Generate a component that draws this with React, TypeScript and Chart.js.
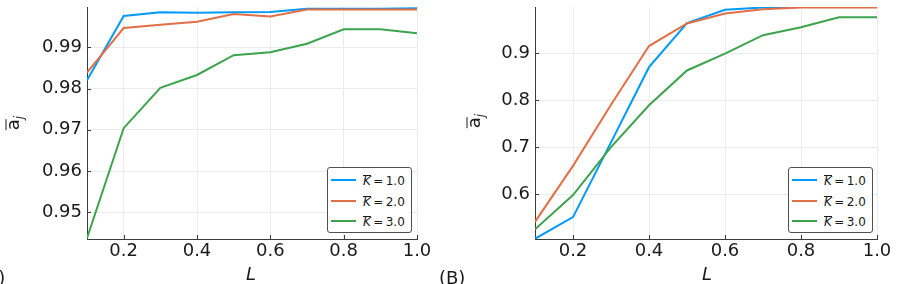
import { useEffect, useRef } from "react";
import { Chart, registerables } from "chart.js";

Chart.register(...registerables);

// Shared x grid: L from 0.1 to 1.0
const L_VALUES = [0.1, 0.2, 0.3, 0.4, 0.5, 0.6, 0.7, 0.8, 0.9, 1.0];
const X_TICKS = [0.2, 0.4, 0.6, 0.8, 1.0];

// Panel (A)
const A_K1 = [0.982, 0.9976, 0.9985, 0.9984, 0.9985, 0.9986, 0.9994, 0.9994, 0.9994, 0.9995];
const A_K2 = [0.9839, 0.9947, 0.9955, 0.9962, 0.9981, 0.9975, 0.9992, 0.9992, 0.9992, 0.9992];
const A_K3 = [0.9437, 0.9704, 0.9802, 0.9833, 0.9881, 0.9888, 0.9909, 0.9944, 0.9944, 0.9934];
const A_Y_TICKS = [0.95, 0.96, 0.97, 0.98, 0.99];
const A_Y_MIN = 0.9435;
const A_Y_MAX = 0.9998;

// Panel (B)
const B_K1 = [0.505, 0.551, 0.71, 0.87, 0.964, 0.992, 0.997, 0.998, 0.998, 0.998];
const B_K2 = [0.541, 0.66, 0.79, 0.915, 0.963, 0.984, 0.993, 0.997, 0.997, 0.997];
const B_K3 = [0.525, 0.598, 0.7, 0.789, 0.863, 0.899, 0.938, 0.955, 0.976, 0.976];
const B_Y_TICKS = [0.6, 0.7, 0.8, 0.9];
const B_Y_MIN = 0.5045;
const B_Y_MAX = 0.998;

const K_LABELS = ["1.0", "2.0", "3.0"];
const K_COLORS = ["#009af9", "#e26f46", "#3da44d"];

const FONT = '"DejaVu Sans", "Liberation Sans", sans-serif';
const TEXT_COLOR = "#1a1a1a";
const AXIS_COLOR = "#3c3c3c";
const GRID_COLOR = "#ebebeb";
const HEIGHT = 284;
const PANEL_WIDTH = 449;

// short tick marks pointing into the plot area
const innerTicks = {
  id: "innerTicks",
  afterDraw(chart: any) {
    const { ctx, chartArea, scales } = chart;
    ctx.save();
    ctx.strokeStyle = AXIS_COLOR;
    ctx.lineWidth = 1;
    ctx.beginPath();
    for (const t of scales.x.ticks) {
      const px = Math.round(scales.x.getPixelForValue(t.value)) + 0.5;
      ctx.moveTo(px, chartArea.bottom);
      ctx.lineTo(px, chartArea.bottom - 4);
    }
    for (const t of scales.y.ticks) {
      const py = Math.round(scales.y.getPixelForValue(t.value)) + 0.5;
      ctx.moveTo(chartArea.left, py);
      ctx.lineTo(chartArea.left + 4, py);
    }
    ctx.stroke();
    ctx.restore();
  },
};

type PanelProps = {
  series: number[][];
  yTicks: number[];
  yMin: number;
  yMax: number;
  yDecimals: number;
  offsetX: number;
  plotLeft: number;
  plotRight: number;
};

function Panel(p: PanelProps) {
  const ref = useRef<HTMLCanvasElement>(null);
  useEffect(() => {
    const chart = new Chart(ref.current as HTMLCanvasElement, {
      type: "line",
      data: {
        datasets: p.series.map((vals, i) => ({
          label: "K = " + K_LABELS[i],
          data: L_VALUES.map((x, j) => ({ x, y: vals[j] })),
          borderColor: K_COLORS[i],
          backgroundColor: K_COLORS[i],
          borderWidth: 2,
          pointRadius: 0,
          tension: 0,
          fill: false,
          order: p.series.length - i,
        })),
      },
      options: {
        responsive: false,
        animation: false,
        devicePixelRatio: 1,
        layout: { padding: { left: 0, right: PANEL_WIDTH - p.plotRight, top: 7, bottom: 0 } },
        plugins: { legend: { display: false }, tooltip: { enabled: false } },
        scales: {
          x: {
            type: "linear",
            min: 0.1,
            max: 1.0,
            afterBuildTicks: (s: any) => {
              s.ticks = X_TICKS.map((v) => ({ value: v }));
            },
            afterFit: (s: any) => {
              s.height = HEIGHT - 239;
              s.paddingLeft = 0;
              s.paddingRight = 0;
            },
            ticks: {
              autoSkip: false,
              maxRotation: 0,
              padding: 2,
              color: TEXT_COLOR,
              font: { family: FONT, size: 18 },
              callback: (v: any) => Number(v).toFixed(1),
            },
            grid: { color: GRID_COLOR, drawTicks: false, lineWidth: 1 },
            border: { color: AXIS_COLOR, width: 1 },
          },
          y: {
            type: "linear",
            min: p.yMin,
            max: p.yMax,
            afterBuildTicks: (s: any) => {
              s.ticks = p.yTicks.map((v) => ({ value: v }));
            },
            afterFit: (s: any) => {
              s.width = p.plotLeft;
              s.paddingTop = 0;
              s.paddingBottom = 0;
            },
            ticks: {
              autoSkip: false,
              padding: 5,
              color: TEXT_COLOR,
              font: { family: FONT, size: 18 },
              callback: (v: any) => Number(v).toFixed(p.yDecimals),
            },
            grid: { color: GRID_COLOR, drawTicks: false, lineWidth: 1 },
            border: { color: AXIS_COLOR, width: 1 },
          },
        },
      } as any,
      plugins: [innerTicks],
    });
    return () => chart.destroy();
  }, []);
  return (
    <canvas
      ref={ref}
      width={PANEL_WIDTH}
      height={HEIGHT}
      style={{ position: "absolute", left: p.offsetX, top: 0, width: PANEL_WIDTH, height: HEIGHT }}
    />
  );
}

function Bar({ children, lh }: { children: any; lh: string }) {
  return (
    <span style={{ display: "inline-block", borderTop: "1.3px solid currentColor", lineHeight: lh }}>
      {children}
    </span>
  );
}

function Legend({ left, top }: { left: number; top: number }) {
  const rows = [13, 33.5, 54];
  return (
    <div
      style={{
        position: "absolute",
        left,
        top,
        width: 85,
        height: 66,
        boxSizing: "border-box",
        border: "1px solid #505050",
        borderRadius: 3,
        background: "#ffffff",
      }}
    >
      {K_LABELS.map((lab, i) => (
        <div key={lab}>
          <div
            style={{
              position: "absolute",
              left: 3,
              top: rows[i] - 2,
              width: 25,
              height: 2,
              background: K_COLORS[i],
            }}
          />
          <div
            style={{
              position: "absolute",
              left: 35,
              top: rows[i] - 8,
              height: 16,
              font: `12px ${FONT}`,
              color: TEXT_COLOR,
              whiteSpace: "nowrap",
              lineHeight: "16px",
            }}
          >
            <span style={{ fontStyle: "italic" }}>
              <Bar lh="0.9em">K</Bar>
            </span>
            {"\u2009=\u2009" + lab}
          </div>
        </div>
      ))}
    </div>
  );
}

function YTitle({ cx, cy }: { cx: number; cy: number }) {
  return (
    <div
      style={{
        position: "absolute",
        left: cx,
        top: cy,
        transform: "translate(-50%, -50%) rotate(-90deg)",
        font: `18px ${FONT}`,
        color: TEXT_COLOR,
        whiteSpace: "nowrap",
        lineHeight: 1,
      }}
    >
      <Bar lh="0.66em">a</Bar>
      <span style={{ fontSize: 12, fontStyle: "italic", verticalAlign: "-4px" }}>j</span>
    </div>
  );
}

function XTitle({ cx }: { cx: number }) {
  return (
    <div
      style={{
        position: "absolute",
        left: cx,
        top: 265,
        transform: "translateX(-50%)",
        font: `italic 18px ${FONT}`,
        color: TEXT_COLOR,
        lineHeight: 1,
      }}
    >
      L
    </div>
  );
}

function PanelTag({ left, text }: { left: number; text: string }) {
  return (
    <div
      style={{
        position: "absolute",
        left,
        top: 269,
        font: `18px ${FONT}`,
        color: TEXT_COLOR,
        lineHeight: 1,
        whiteSpace: "nowrap",
      }}
    >
      {text}
    </div>
  );
}

export default function App() {
  return (
    <div
      style={{
        position: "absolute",
        left: 0,
        top: 0,
        width: 898,
        height: HEIGHT,
        overflow: "hidden",
        background: "#ffffff",
      }}
    >
      <Panel
        series={[A_K1, A_K2, A_K3]}
        yTicks={A_Y_TICKS}
        yMin={A_Y_MIN}
        yMax={A_Y_MAX}
        yDecimals={2}
        offsetX={0}
        plotLeft={87}
        plotRight={417}
      />
      <Panel
        series={[B_K1, B_K2, B_K3]}
        yTicks={B_Y_TICKS}
        yMin={B_Y_MIN}
        yMax={B_Y_MAX}
        yDecimals={1}
        offsetX={449}
        plotLeft={86}
        plotRight={428}
      />
      <YTitle cx={14} cy={123} />
      <YTitle cx={475} cy={121} />
      <XTitle cx={251} />
      <XTitle cx={707} />
      <Legend left={327} top={167} />
      <Legend left={788} top={167} />
      <PanelTag left={-21} text="(A)" />
      <PanelTag left={439} text="(B)" />
    </div>
  );
}
